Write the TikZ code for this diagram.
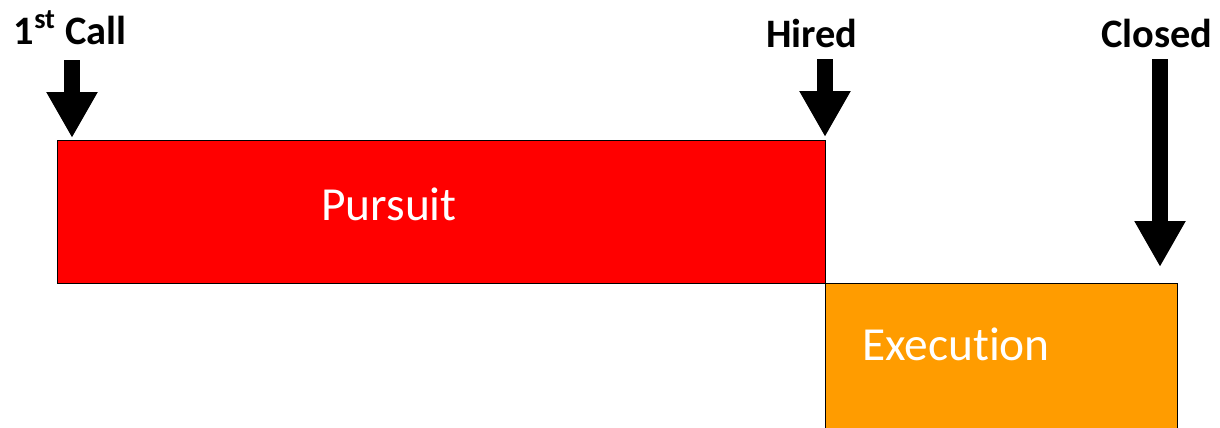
\documentclass[tikz,border=0pt]{standalone}
\usepackage{fontspec}
\setmainfont[Ligatures={NoCommon,NoContextual},RawFeature={-liga;-clig;-calt}]{Carlito}
\usetikzlibrary{arrows.meta}
\definecolor{pursuitred}{RGB}{255,0,0}
\definecolor{execorange}{RGB}{255,156,0}
\begin{document}
\begin{tikzpicture}[x=0.02cm,y=-0.02cm,
  phase/.style={draw=black,line width=0.8pt,anchor=north west,inner sep=0pt},
  phasetext/.style={text=white,font=\fontsize{27}{32}\selectfont},
  milestone/.style={font=\bfseries\fontsize{23}{28}\selectfont},
  blockarrow/.style={line width=0.32cm,-{Triangle[width=0.96cm,length=0.92cm]}}]
\useasboundingbox (0,0) rectangle (1220,427);
\node[phase,fill=pursuitred,minimum width=15.36cm,minimum height=2.86cm] (pursuit) at (57,140) {};
\node[phase,fill=execorange,minimum width=7.04cm,minimum height=3.0cm] (execution) at (825,283) {};
\node[phasetext] (pursuitlbl) at (389,204) {Pursuit};
\node[phasetext] (execlbl) at (956,344) {Execution};
\node[milestone] (call) at (70,28) {1\textsuperscript{st} Call};
\node[milestone] (hired) at (812,33) {Hired};
\node[milestone] (closed) at (1157,33) {Closed};
\coordinate (callTop) at (72,60); \coordinate (callTip) at (72,138);
\coordinate (hiredTop) at (825,59); \coordinate (hiredTip) at (825,137);
\coordinate (closedTop) at (1160,59); \coordinate (closedTip) at (1160,267);
\draw[blockarrow] (callTop) -- (callTip);
\draw[blockarrow] (hiredTop) -- (hiredTip);
\draw[blockarrow] (closedTop) -- (closedTip);
\end{tikzpicture}
\end{document}
